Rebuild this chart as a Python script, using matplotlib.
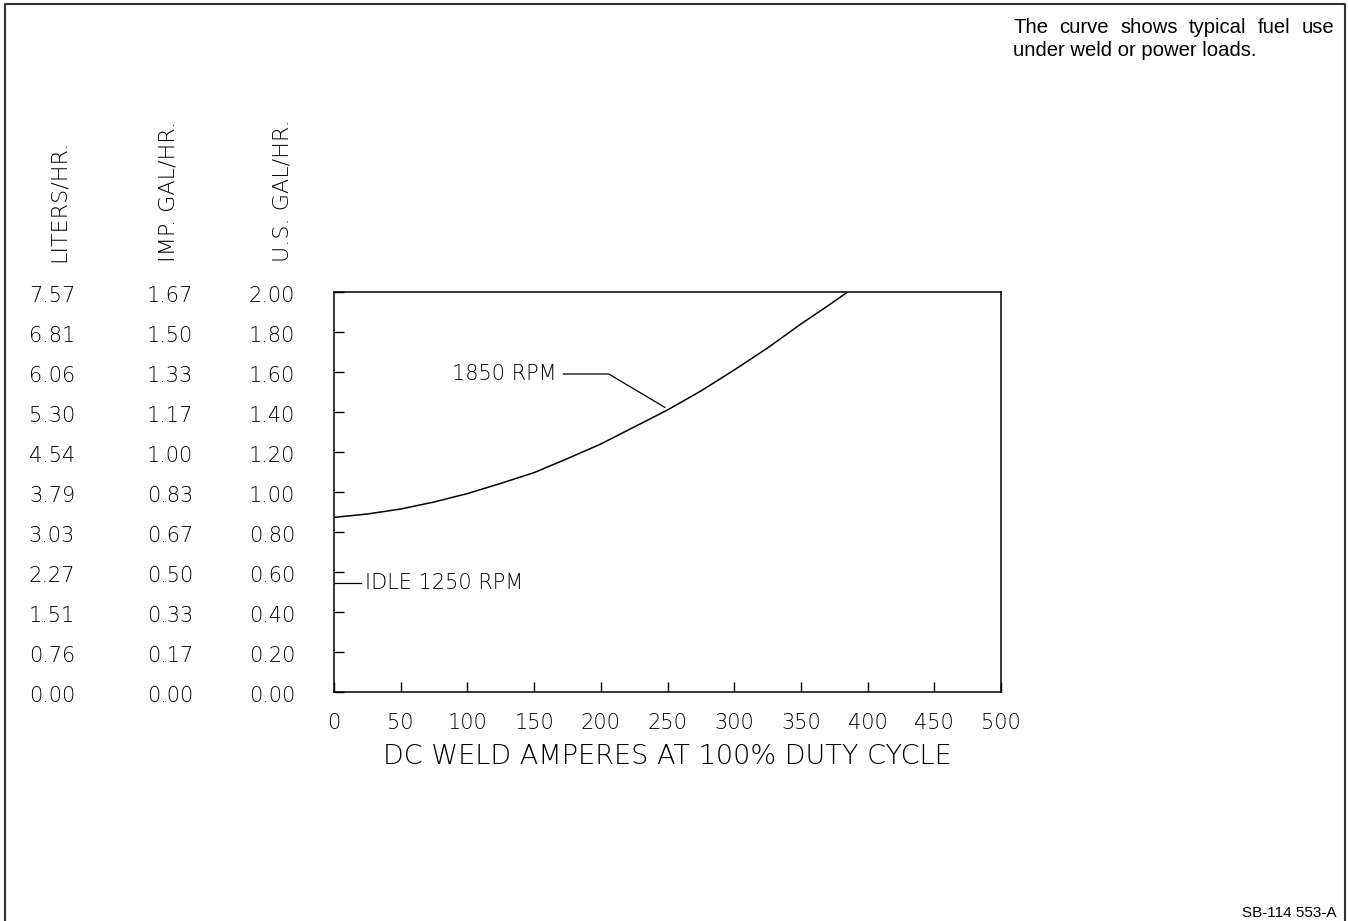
import numpy as np
import matplotlib
matplotlib.use('Agg')
import matplotlib.pyplot as plt
import matplotlib.transforms as mtransforms
from matplotlib.lines import Line2D

# Dados
amperes = [0, 25, 50, 75, 100, 125, 150, 175, 200, 225, 250, 275, 300, 325, 350, 370, 385]
us_gal_hr = [0.873, 0.890, 0.915, 0.950, 0.992, 1.043, 1.097, 1.167, 1.240, 1.325,
             1.410, 1.505, 1.610, 1.720, 1.840, 1.930, 2.000]

x_ticks = [0, 50, 100, 150, 200, 250, 300, 350, 400, 450, 500]
us_ticks = [0.0, 0.2, 0.4, 0.6, 0.8, 1.0, 1.2, 1.4, 1.6, 1.8, 2.0]
us_labels = ['0.00', '0.20', '0.40', '0.60', '0.80', '1.00', '1.20', '1.40', '1.60', '1.80', '2.00']
imp_labels = ['0.00', '0.17', '0.33', '0.50', '0.67', '0.83', '1.00', '1.17', '1.33', '1.50', '1.67']
liters_labels = ['0.00', '0.76', '1.51', '2.27', '3.03', '3.79', '4.54', '5.30', '6.06', '6.81', '7.57']
column_titles = ['LITERS/HR.', 'IMP. GAL/HR.', 'U.S. GAL/HR.']

idle_gal = 0.547
rpm_label_amps = 167
rpm_label_gal = 1.59
rpm_tip_amps = 248

note_lines = ['The curve shows typical fuel use', 'under weld or power loads.']
doc_code = 'SB-114 553-A'

W, H = 1348, 921
cad = 'DejaVu Sans'
cad_w = 'light'

fig = plt.figure(figsize=(W / 100, H / 100), dpi=100)
ax = fig.add_axes([334 / W, 1 - 692 / H, 667 / W, 400 / H])

ax.plot(amperes, us_gal_hr, color='black', lw=1.1)
ax.set_xlim(0, 500)
ax.set_ylim(0, 2.0)

ax.set_xticks(x_ticks)
ax.set_xticklabels([str(v) for v in x_ticks], family=cad, fontsize=15, fontweight=cad_w)
ax.tick_params(axis='x', direction='in', length=7, width=1, pad=15, top=False)
ax.set_yticks(us_ticks)
ax.set_yticklabels([])
ax.tick_params(axis='y', direction='in', length=7, width=1, right=False)
for s in ax.spines.values():
    s.set_linewidth(1.1)

ax.set_xlabel('DC WELD AMPERES AT 100% DUTY CYCLE', family=cad, fontsize=19.5,
              fontweight=cad_w)
ax.xaxis.set_label_coords(0.5, -0.13)

# tres colunas de escala no lado esquerdo
trans = mtransforms.blended_transform_factory(fig.transFigure, ax.transData)
trans = mtransforms.offset_copy(trans, fig=fig, y=-4, units='dots')
col_x = [52 / W, 170 / W, 272 / W]
title_x = [59 / W, 169 / W, 282 / W]
for cx, labels in zip(col_x, [liters_labels, imp_labels, us_labels]):
    for v, lab in zip(us_ticks, labels):
        fig.text(cx, v, lab, transform=trans, ha='center', va='center',
                 family=cad, fontsize=15, fontweight=cad_w)
for tx, title in zip(title_x, column_titles):
    fig.text(tx, 1 - 262 / H, title, rotation=90, ha='center', va='bottom',
             family=cad, fontsize=16, fontweight=cad_w)

# anotacoes
tip_gal = np.interp(rpm_tip_amps, amperes, us_gal_hr) + 0.02
ax.plot([rpm_label_amps + 5, rpm_label_amps + 39, rpm_tip_amps],
        [rpm_label_gal, rpm_label_gal, tip_gal], color='black', lw=0.9)
ax.text(rpm_label_amps, rpm_label_gal, '1850 RPM', ha='right', va='center',
        family=cad, fontsize=15, fontweight=cad_w)
ax.plot([0, 20], [idle_gal, idle_gal], color='black', lw=0.9)
ax.text(23, idle_gal, 'IDLE 1250 RPM', ha='left', va='center', family=cad,
        fontsize=15, fontweight=cad_w)

# nota no canto superior direito, primeira linha justificada
renderer = fig.canvas.get_renderer()
note_kw = dict(family='Liberation Sans', fontsize=14.6, va='baseline', ha='left')
left_px, right_px = 1013, 1334

words = note_lines[0].split()
widths = []
for w in words:
    t = fig.text(0, 0, w, **note_kw)
    widths.append(t.get_window_extent(renderer).width)
    t.remove()
gap = (right_px - left_px - sum(widths)) / (len(words) - 1)
x = left_px
for w, wd in zip(words, widths):
    fig.text(x / W, 1 - 33 / H, w, **note_kw)
    x += wd + gap
fig.text(left_px / W, 1 - 56 / H, note_lines[1], **note_kw)

fig.text(1337 / W, 1 - 917 / H, doc_code, ha='right', va='baseline',
         family='Liberation Sans', fontsize=11)

# moldura
fig.add_artist(Line2D([4.5 / W, 4.5 / W, 1345 / W, 1345 / W],
                      [0, 1 - 4.5 / H, 1 - 4.5 / H, 0],
                      transform=fig.transFigure, color='#333333', lw=1.5))

fig.savefig('out.png', dpi=100)
